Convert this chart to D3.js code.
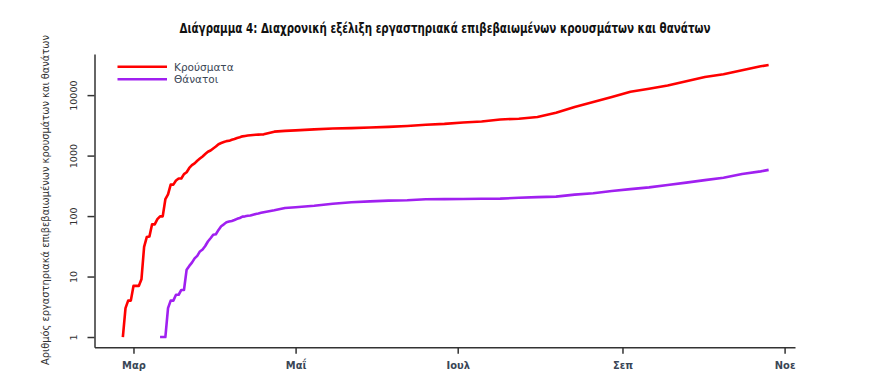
<!DOCTYPE html>
<html lang="el">
<head>
<meta charset="utf-8">
<title>Διάγραμμα 4</title>
<script src="https://cdn.jsdelivr.net/npm/d3@7"></script>
<style>
  body { margin: 0; background: #fff; }
</style>
</head>
<body>
<script>
// cumulative counts, daily up to 19 Apr, then roughly weekly
const dates = [
  "2020-02-26","2020-02-27","2020-02-28","2020-02-29",
  "2020-03-01","2020-03-02","2020-03-03","2020-03-04","2020-03-05","2020-03-06","2020-03-07","2020-03-08","2020-03-09","2020-03-10",
  "2020-03-11","2020-03-12","2020-03-13","2020-03-14","2020-03-15","2020-03-16","2020-03-17","2020-03-18","2020-03-19","2020-03-20",
  "2020-03-21","2020-03-22","2020-03-23","2020-03-24","2020-03-25","2020-03-26","2020-03-27","2020-03-28","2020-03-29","2020-03-30","2020-03-31",
  "2020-04-01","2020-04-02","2020-04-03","2020-04-04","2020-04-05","2020-04-06","2020-04-07","2020-04-08","2020-04-09","2020-04-10",
  "2020-04-11","2020-04-12","2020-04-13","2020-04-14","2020-04-15","2020-04-16","2020-04-17","2020-04-18","2020-04-19",
  "2020-04-23","2020-04-27","2020-05-01","2020-05-08","2020-05-15","2020-05-22","2020-05-29","2020-06-05","2020-06-12","2020-06-19",
  "2020-06-26","2020-07-03","2020-07-10","2020-07-17","2020-07-24","2020-07-31","2020-08-07","2020-08-14","2020-08-21","2020-08-28",
  "2020-09-04","2020-09-11","2020-09-18","2020-09-25","2020-10-02","2020-10-09","2020-10-16","2020-10-23","2020-10-26"
]
const cases = [
  1,3,4,4,
  7,7,7,9,31,45,46,73,73,89,
  99,99,190,228,331,331,387,418,418,495,
  530,624,695,743,821,892,966,1061,1156,1212,1314,
  1415,1544,1613,1673,1735,1755,1832,1884,1955,2011,
  2081,2114,2145,2170,2192,2207,2224,2235,2245,
  2490,2566,2612,2710,2810,2850,2909,2980,3088,3227,
  3343,3519,3672,3964,4077,4337,5123,6381,7684,9280,
  11386,12734,14400,16910,19947,22078,25802,29992,31496
]
const deaths = [
  null,null,null,null,
  null,null,null,null,null,null,null,null,null,null,
  1,1,1,3,4,4,5,5,6,6,
  13,15,17,20,22,26,28,32,38,43,49,
  50,59,68,73,79,81,83,86,90,93,
  98,99,101,102,105,108,110,113,116,
  125,136,140,148,160,169,175,180,183,190,
  191,192,193,194,201,206,210,226,238,259,
  279,298,326,357,393,429,497,548,581
]
const seriesNames = ["Κρούσματα", "Θάνατοι"]
const seriesColors = ["#ff0000", "#a020f0"]
const monthTicks = ["2020-03-01","2020-05-01","2020-07-01","2020-09-01","2020-11-01"]
const monthLabels = ["Μαρ", "Μαΐ", "Ιουλ", "Σεπ", "Νοε"]
const yTicks = [1, 10, 100, 1000, 10000]

const w = 889
const h = 388
const parse = d3.timeParse("%Y-%m-%d")

const svg = d3.select("body").append("svg")
    .attr("width", w)
    .attr("height", h)

const x = d3.scaleTime()
    .domain([new Date(2020, 1, 15, 8), new Date(2020, 10, 4, 22)])
    .range([94.5, 795])
const y = d3.scaleLog()
    .domain([Math.pow(10, -0.17), Math.pow(10, 4.68)])
    .range([347.3, 54])

// title
svg.append("text")
    .attr("x", 445)
    .attr("y", 33)
    .attr("text-anchor", "middle")
    .attr("font-family", "'Liberation Sans Narrow', 'DejaVu Sans Condensed', sans-serif")
    .attr("font-weight", "bold")
    .attr("font-size", "13.5px")
    .attr("fill", "#111")
    .attr("textLength", 531)
    .attr("lengthAdjust", "spacingAndGlyphs")
    .text("Διάγραμμα 4: Διαχρονική εξέλιξη εργαστηριακά επιβεβαιωμένων κρουσμάτων και θανάτων")

// y axis label
svg.append("text")
    .attr("transform", "translate(49,200) rotate(-90)")
    .attr("text-anchor", "middle")
    .attr("font-family", "'DejaVu Sans', sans-serif")
    .attr("font-size", "11px")
    .attr("fill", "#333")
    .attr("textLength", 330)
    .attr("lengthAdjust", "spacingAndGlyphs")
    .text("Αριθμός εργαστηριακά επιβεβαιωμένων κρουσμάτων και θανάτων")

// axes (L shaped frame)
const xAxis = svg.append("g")
    .attr("transform", "translate(0,347.3)")
    .call(d3.axisBottom(x)
        .tickValues(monthTicks.map(parse))
        .tickFormat((d, i) => monthLabels[i])
        .tickSize(6.5)
        .tickSizeOuter(0))
xAxis.select(".domain").attr("stroke", "#333").attr("stroke-width", 1.5)
xAxis.selectAll(".tick line").attr("stroke", "#333").attr("stroke-width", 1.5)
xAxis.selectAll(".tick text")
    .attr("y", 14)
    .attr("font-family", "'Liberation Sans Narrow', 'DejaVu Sans Condensed', sans-serif")
    .attr("font-weight", "bold")
    .attr("font-size", "11px")
    .attr("fill", "#3a4656")

const yAxis = svg.append("g")
    .attr("transform", "translate(94.5,0)")
    .call(d3.axisLeft(y)
        .tickValues(yTicks)
        .tickFormat(d3.format("d"))
        .tickSize(7)
        .tickSizeOuter(0))
yAxis.select(".domain").attr("stroke", "#333").attr("stroke-width", 1.5)
yAxis.selectAll(".tick line").attr("stroke", "#333").attr("stroke-width", 1.5)
yAxis.selectAll(".tick text")
    .attr("x", null)
    .attr("dy", null)
    .attr("transform", "translate(-21,0) rotate(-90)")
    .attr("text-anchor", "middle")
    .attr("dominant-baseline", "central")
    .attr("font-family", "'DejaVu Sans', sans-serif")
    .attr("font-size", "9.5px")
    .attr("fill", "#333")

// lines
const rows = dates.map((d, i) => ({date: parse(d), values: [cases[i], deaths[i]]}))
seriesNames.forEach((name, k) => {
    const line = d3.line()
        .defined(d => d.values[k] != null)
        .x(d => x(d.date))
        .y(d => y(d.values[k]))
    svg.append("path")
        .datum(rows)
        .attr("fill", "none")
        .attr("stroke", seriesColors[k])
        .attr("stroke-width", 2.6)
        .attr("stroke-linejoin", "round")
        .attr("d", line)
})

// legend
const legend = svg.append("g")
seriesNames.forEach((name, k) => {
    const ly = 66.7 + k * 12.5
    legend.append("line")
        .attr("x1", 117.5).attr("x2", 167)
        .attr("y1", ly).attr("y2", ly)
        .attr("stroke", seriesColors[k])
        .attr("stroke-width", 2.6)
    legend.append("text")
        .attr("x", 174)
        .attr("y", ly + 4)
        .attr("font-family", "'DejaVu Sans', sans-serif")
        .attr("font-size", "10.5px")
        .attr("fill", "#3a4656")
        .text(name)
})
</script>
</body>
</html>
